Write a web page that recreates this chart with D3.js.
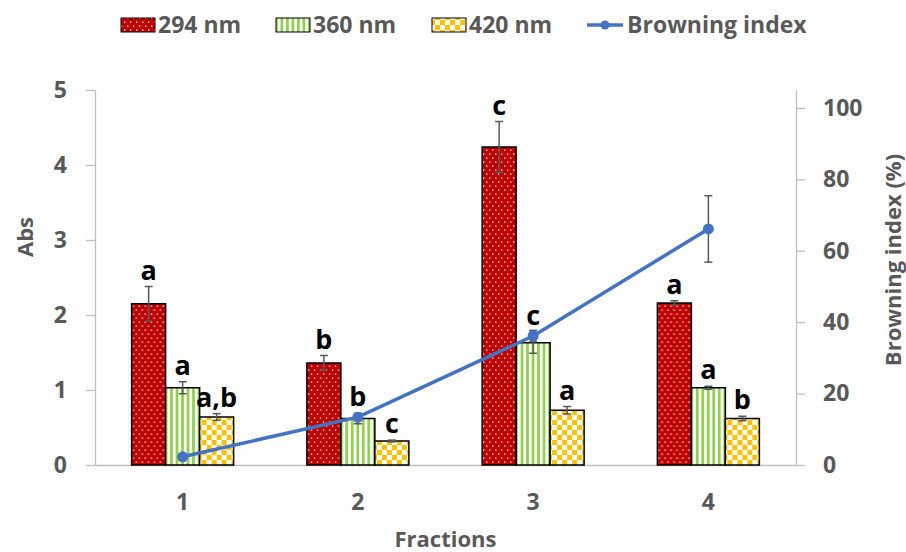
<!DOCTYPE html>
<html>
<head>
<meta charset="utf-8">
<script src="https://cdn.jsdelivr.net/npm/d3@7/dist/d3.min.js"></script>
<style>
  body { margin: 0; background: #fff; }
  text { font-family: "Open Sans", "DejaVu Sans", sans-serif; font-weight: bold; }
</style>
</head>
<body>
<script>
var w = 906;
var h = 552;

// data
var fractions = ['1', '2', '3', '4'];
var series = ['294 nm', '360 nm', '420 nm'];
var abs294 = [2.15, 1.36, 4.24, 2.16];
var err294 = [0.23, 0.10, 0.34, 0.03];
var abs360 = [1.03, 0.62, 1.63, 1.03];
var err360 = [0.08, 0.07, 0.14, 0.02];
var abs420 = [0.64, 0.32, 0.73, 0.62];
var err420 = [0.045, 0.012, 0.05, 0.03];
var let294 = ['a', 'b', 'c', 'a'];
var let360 = ['a', 'b', 'c', 'a'];
var let420 = ['a,b', 'c', 'a', 'b'];
var browning = [2.3, 13.4, 36.1, 66.1];
var browningErr = [0.6, 1.0, 1.6, 9.3];
var absTicks = [0, 1, 2, 3, 4, 5];
var biTicks = [0, 20, 40, 60, 80, 100];

var plot = { left: 95, right: 796, top: 90, bottom: 465 };
var grey = '#595959';
var axisGrey = '#bfbfbf';
var patterns = ['url(#dots)', 'url(#stripes)', 'url(#checks)'];

var svg = d3.select('body').append('svg').attr('width', w).attr('height', h);

// fill patterns
var defs = svg.append('defs');
var dots = defs.append('pattern').attr('id', 'dots').attr('patternUnits', 'userSpaceOnUse')
  .attr('width', 6).attr('height', 8);
dots.append('rect').attr('width', 6).attr('height', 8).attr('fill', '#c00000');
dots.append('rect').attr('x', 1).attr('y', 1.5).attr('width', 1.3).attr('height', 1.3).attr('fill', '#fff');
dots.append('rect').attr('x', 4).attr('y', 5.5).attr('width', 1.3).attr('height', 1.3).attr('fill', '#fff');

var stripes = defs.append('pattern').attr('id', 'stripes').attr('patternUnits', 'userSpaceOnUse')
  .attr('width', 5.5).attr('height', 10);
stripes.append('rect').attr('width', 5.5).attr('height', 10).attr('fill', '#fff');
stripes.append('rect').attr('x', 0).attr('width', 2.8).attr('height', 10).attr('fill', '#92d050');

var checks = defs.append('pattern').attr('id', 'checks').attr('patternUnits', 'userSpaceOnUse')
  .attr('width', 10).attr('height', 10);
checks.append('rect').attr('width', 10).attr('height', 10).attr('fill', '#fff');
checks.append('rect').attr('width', 5).attr('height', 5).attr('fill', '#ffc000');
checks.append('rect').attr('x', 5).attr('y', 5).attr('width', 5).attr('height', 5).attr('fill', '#ffc000');

// scales
var x0 = d3.scaleBand().domain(fractions).range([plot.left, plot.right])
  .paddingInner(0.418).paddingOuter(0.209);
var x1 = d3.scaleBand().domain(series).range([0, x0.bandwidth()]).padding(0);
var yL = d3.scaleLinear().domain([0, 5]).range([plot.bottom, plot.top]);
var yR = d3.scaleLinear().domain([0, 105]).range([plot.bottom, plot.top]);

// axes
function styleAxis(g) {
  g.selectAll('path.domain').attr('stroke', axisGrey).attr('stroke-width', 1.3);
  g.selectAll('.tick line').attr('stroke', axisGrey).attr('stroke-width', 1.3);
  g.selectAll('.tick text').attr('fill', grey).style('font-size', '23px')
    .style('font-family', '"Open Sans", sans-serif').style('font-weight', 'bold');
}

var gx = svg.append('g').attr('transform', 'translate(0,' + plot.bottom + ')')
  .call(d3.axisBottom(x0).tickSize(0).tickSizeOuter(0).tickPadding(29));
styleAxis(gx);

var gl = svg.append('g').attr('transform', 'translate(' + plot.left + ',0)')
  .call(d3.axisLeft(yL).tickValues(absTicks).tickFormat(d3.format('d')).tickSize(9).tickSizeOuter(0).tickPadding(19));
styleAxis(gl);

var gr = svg.append('g').attr('transform', 'translate(' + plot.right + ',0)')
  .call(d3.axisRight(yR).tickValues(biTicks).tickFormat(d3.format('d')).tickSize(9).tickSizeOuter(0).tickPadding(18));
styleAxis(gr);

// bars
var table = fractions.map(function (f, i) {
  return [
    { f: f, s: series[0], v: abs294[i], e: err294[i], l: let294[i], k: 0 },
    { f: f, s: series[1], v: abs360[i], e: err360[i], l: let360[i], k: 1 },
    { f: f, s: series[2], v: abs420[i], e: err420[i], l: let420[i], k: 2 }
  ];
});

var groups = svg.selectAll('g.group').data(table).enter().append('g')
  .attr('class', 'group')
  .attr('transform', function (d) { return 'translate(' + x0(d[0].f) + ',0)'; });

groups.selectAll('rect').data(function (d) { return d; }).enter().append('rect')
  .attr('x', function (d) { return x1(d.s); })
  .attr('y', function (d) { return yL(d.v); })
  .attr('width', x1.bandwidth())
  .attr('height', function (d) { return yL(0) - yL(d.v); })
  .attr('fill', function (d) { return patterns[d.k]; })
  .attr('stroke', '#000')
  .attr('stroke-width', 1.5);

function errorBar(g, cx, yTop, yBot) {
  g.append('line').attr('x1', cx).attr('x2', cx).attr('y1', yTop).attr('y2', yBot);
  g.append('line').attr('x1', cx - 4).attr('x2', cx + 4).attr('y1', yTop).attr('y2', yTop);
  g.append('line').attr('x1', cx - 4).attr('x2', cx + 4).attr('y1', yBot).attr('y2', yBot);
}

groups.each(function (d) {
  var g = d3.select(this).append('g').attr('stroke', grey).attr('stroke-width', 1.5);
  d.forEach(function (b) {
    errorBar(g, x1(b.s) + x1.bandwidth() / 2, yL(b.v + b.e), yL(b.v - b.e));
  });
});

groups.selectAll('text.letter').data(function (d) { return d; }).enter().append('text')
  .attr('class', 'letter')
  .attr('x', function (d) { return x1(d.s) + x1.bandwidth() / 2; })
  .attr('y', function (d) { return yL(d.v + d.e) - 7; })
  .attr('text-anchor', 'middle')
  .style('font-size', '27px')
  .attr('fill', '#000')
  .text(function (d) { return d.l; });

// browning index line
var cx = function (i) { return x0(fractions[i]) + x0.bandwidth() / 2; };
var lineErr = svg.append('g').attr('stroke', grey).attr('stroke-width', 1.5);
browning.forEach(function (v, i) {
  errorBar(lineErr, cx(i), yR(v + browningErr[i]), yR(v - browningErr[i]));
});

var line = d3.line()
  .x(function (d, i) { return cx(i); })
  .y(function (d) { return yR(d); });

svg.append('path').datum(browning)
  .attr('d', line)
  .attr('fill', 'none')
  .attr('stroke', '#4472c4')
  .attr('stroke-width', 3.5);

svg.selectAll('circle.marker').data(browning).enter().append('circle')
  .attr('class', 'marker')
  .attr('cx', function (d, i) { return cx(i); })
  .attr('cy', function (d) { return yR(d); })
  .attr('r', 5.5)
  .attr('fill', '#4472c4');

// axis titles
svg.append('text').attr('x', (plot.left + plot.right) / 2).attr('y', 547)
  .attr('text-anchor', 'middle').attr('fill', grey).style('font-size', '22px').text('Fractions');
svg.append('text').attr('transform', 'translate(33,237) rotate(-90)')
  .attr('text-anchor', 'middle').attr('fill', grey).style('font-size', '22px').text('Abs');
svg.append('text').attr('transform', 'translate(901,260) rotate(-90)')
  .attr('text-anchor', 'middle').attr('fill', grey).style('font-size', '22px').text('Browning index (%)');

// legend
var legendX = [121, 276, 432];
var legend = svg.append('g');
series.forEach(function (s, i) {
  legend.append('rect').attr('x', legendX[i]).attr('y', 18).attr('width', 34).attr('height', 14)
    .attr('fill', patterns[i]).attr('stroke', '#000').attr('stroke-width', 1);
  legend.append('text').attr('x', legendX[i] + 37).attr('y', 33)
    .attr('fill', grey).style('font-size', '23px').text(s);
});
legend.append('line').attr('x1', 587).attr('x2', 623).attr('y1', 25).attr('y2', 25)
  .attr('stroke', '#4472c4').attr('stroke-width', 3.5);
legend.append('circle').attr('cx', 605).attr('cy', 25).attr('r', 4.5).attr('fill', '#4472c4');
legend.append('text').attr('x', 627).attr('y', 33)
  .attr('fill', grey).style('font-size', '23px').text('Browning index');
</script>
</body>
</html>
